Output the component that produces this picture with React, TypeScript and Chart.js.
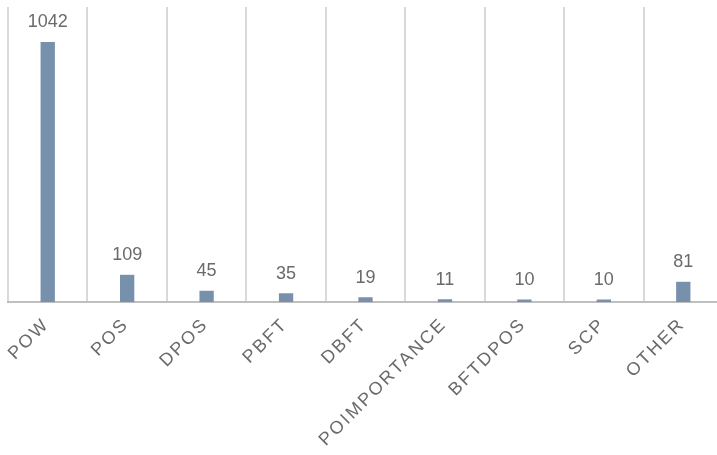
import { useEffect, useRef } from "react";
import { Chart, registerables } from "chart.js";

Chart.register(...registerables);

// Consensus mechanisms and how many projects use each one
const categories = ["POW", "POS", "DPOS", "PBFT", "DBFT", "POIMPORTANCE", "BFTDPOS", "SCP", "OTHER"];
const counts = [1042, 109, 45, 35, 19, 11, 10, 10, 81];
const yMax = 1182;

const TEXT_COLOR = "#6a6a6a";
const FONT_FAMILY = "'Liberation Sans', Arial, sans-serif";

// Numbers printed above each bar
const valueLabels = {
  id: "valueLabels",
  afterDatasetsDraw(chart: any) {
    const ctx = chart.ctx;
    const meta = chart.getDatasetMeta(0);
    ctx.save();
    (ctx as any).letterSpacing = "0px";
    ctx.fillStyle = TEXT_COLOR;
    ctx.font = `18px ${FONT_FAMILY}`;
    ctx.textAlign = "center";
    ctx.textBaseline = "alphabetic";
    meta.data.forEach((bar: any, i: number) => {
      ctx.fillText(String(counts[i]), bar.x, bar.y - 14.5);
    });
    ctx.restore();
  },
};

// Slanted category names under the axis, right end at each category centre
const slantedCategoryLabels = {
  id: "slantedCategoryLabels",
  afterDraw(chart: any) {
    const ctx = chart.ctx;
    const xScale = chart.scales.x;
    const axisY = chart.chartArea.bottom;
    ctx.save();
    (ctx as any).letterSpacing = "2.3px";
    ctx.fillStyle = TEXT_COLOR;
    ctx.font = `18px ${FONT_FAMILY}`;
    ctx.textAlign = "right";
    ctx.textBaseline = "alphabetic";
    categories.forEach((name, i) => {
      const px = xScale.getPixelForValue(i);
      ctx.save();
      ctx.translate(px + 2.5, axisY + 23);
      ctx.rotate(-Math.PI / 4);
      ctx.fillText(name, 0, 0);
      ctx.restore();
    });
    ctx.restore();
  },
};

export default function App() {
  const canvasRef = useRef<HTMLCanvasElement | null>(null);

  useEffect(() => {
    const canvas = canvasRef.current;
    if (!canvas) return;
    const chart = new Chart(canvas, {
      type: "bar",
      data: {
        labels: categories,
        datasets: [
          {
            data: counts,
            backgroundColor: "#7790ac",
            borderWidth: 0,
            barPercentage: 0.18,
            categoryPercentage: 1,
          },
        ],
      },
      options: {
        responsive: false,
        animation: false,
        devicePixelRatio: 1,
        layout: { padding: { left: 8, right: 17, top: 7, bottom: 0 } },
        plugins: {
          legend: { display: false },
          tooltip: { enabled: false },
        },
        scales: {
          x: {
            offset: true,
            grid: {
              display: true,
              offset: true,
              color: "#d9d9d9",
              lineWidth: 2,
              drawTicks: false,
            },
            border: { display: true, color: "#bfbfbf", width: 2 },
            ticks: { display: false },
            afterFit(scale: any) {
              scale.height = 153;
            },
          },
          y: {
            display: false,
            min: 0,
            max: yMax,
          },
        },
      },
      plugins: [valueLabels, slantedCategoryLabels],
    });
    return () => chart.destroy();
  }, []);

  return (
    <div
      style={{
        position: "fixed",
        left: 0,
        top: 0,
        width: 717,
        height: 455,
        overflow: "hidden",
        background: "#ffffff",
      }}
    >
      <canvas ref={canvasRef} width={740} height={455} style={{ display: "block", width: 740, height: 455 }} />
    </div>
  );
}
